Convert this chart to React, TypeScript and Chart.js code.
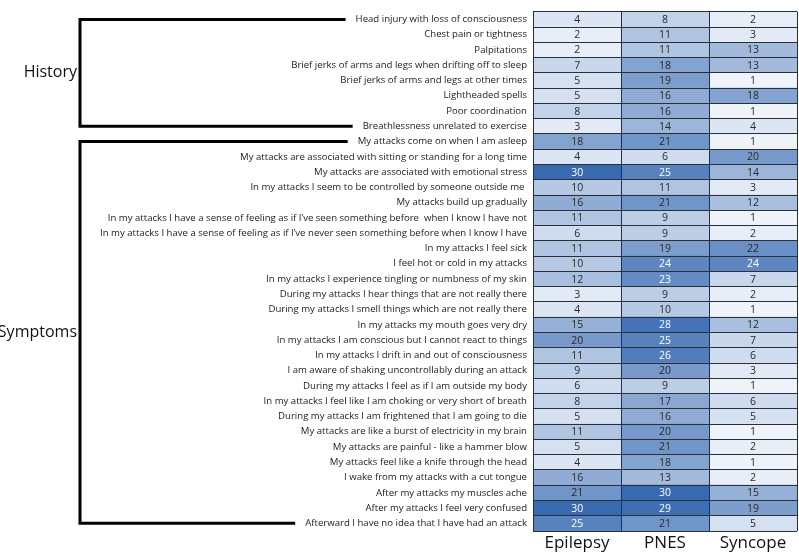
import React, { useEffect, useRef } from "react";
import { Chart, registerables } from "chart.js";

Chart.register(...registerables);

const rowLabels: string[] = [
  "Head injury with loss of consciousness",
  "Chest pain or tightness",
  "Palpitations",
  "Brief jerks of arms and legs when drifting off to sleep",
  "Brief jerks of arms and legs at other times",
  "Lightheaded spells",
  "Poor coordination",
  "Breathlessness unrelated to exercise",
  "My attacks come on when I am asleep",
  "My attacks are associated with sitting or standing for a long time",
  "My attacks are associated with emotional stress",
  "In my attacks I seem to be controlled by someone outside me ",
  "My attacks build up gradually",
  "In my attacks I have a sense of feeling as if I\u2019ve seen something before  when I know I have not",
  "In my attacks I have a sense of feeling as if I\u2019ve never seen something before when I know I have",
  "In my attacks I feel sick",
  "I feel hot or cold in my attacks",
  "In my attacks I experience tingling or numbness of my skin",
  "During my attacks I hear things that are not really there",
  "During my attacks I smell things which are not really there",
  "In my attacks my mouth goes very dry",
  "In my attacks I am conscious but I cannot react to things",
  "In my attacks I drift in and out of consciousness",
  "I am aware of shaking uncontrollably during an attack",
  "During my attacks I feel as if I am outside my body",
  "In my attacks I feel like I am choking or very short of breath",
  "During my attacks I am frightened that I am going to die",
  "My attacks are like a burst of electricity in my brain",
  "My attacks are painful - like a hammer blow",
  "My attacks feel like a knife through the head",
  "I wake from my attacks with a cut tongue",
  "After my attacks my muscles ache",
  "After my attacks I feel very confused",
  "Afterward I have no idea that I have had an attack",
];

const columnLabels: string[] = ["Epilepsy", "PNES", "Syncope"];

const epilepsy: number[] = [4, 2, 2, 7, 5, 5, 8, 3, 18, 4, 30, 10, 16, 11, 6, 11, 10, 12, 3, 4, 15, 20, 11, 9, 6, 8, 5, 11, 5, 4, 16, 21, 30, 25];
const pnes: number[] = [8, 11, 11, 18, 19, 16, 16, 14, 21, 6, 25, 11, 21, 9, 9, 19, 24, 23, 9, 10, 28, 25, 26, 20, 9, 17, 16, 20, 21, 18, 13, 30, 29, 21];
const syncope: number[] = [2, 3, 13, 13, 1, 18, 1, 4, 1, 20, 14, 3, 12, 1, 2, 22, 24, 7, 2, 1, 12, 7, 6, 3, 1, 6, 5, 1, 2, 1, 2, 15, 19, 5];

const groups = [
  { name: "History", first: 0, last: 7 },
  { name: "Symptoms", first: 8, last: 33 },
];

const VMIN = 1;
const VMAX = 30;
const LIGHT = [238, 243, 250];
const DARK = [56, 106, 178];

function cellColor(v: number): string {
  const t = Math.max(0, Math.min(1, (v - VMIN) / (VMAX - VMIN)));
  const c = LIGHT.map((l, i) => Math.round(l + (DARK[i] - l) * t));
  return `rgb(${c[0]},${c[1]},${c[2]})`;
}

const FONT = "'Open Sans', 'DejaVu Sans', sans-serif";
const TICK_PAD = 6;
const ROW_FONT = 9.6;

export default function App() {
  const ref = useRef<HTMLCanvasElement | null>(null);

  useEffect(() => {
    document.body.style.margin = "0";
    const canvas = ref.current;
    if (!canvas) return;
    const columns = [epilepsy, pnes, syncope];

    const cellText = {
      id: "cellText",
      afterDatasetsDraw(chart: any) {
        const ctx = chart.ctx;
        ctx.save();
        ctx.font = `10.5px ${FONT}`;
        ctx.textAlign = "center";
        ctx.textBaseline = "middle";
        chart.data.datasets.forEach((ds: any, di: number) => {
          const meta = chart.getDatasetMeta(di);
          meta.data.forEach((el: any, i: number) => {
            const v = columns[di][i];
            const p = el.getCenterPoint();
            ctx.fillStyle = v >= 23 ? "#ffffff" : "#2a2a2a";
            ctx.fillText(String(v), p.x, p.y + 0.5);
          });
        });
        ctx.restore();
      },
    };

    const brackets = {
      id: "brackets",
      afterDraw(chart: any) {
        const ctx = chart.ctx;
        const y = chart.scales.y;
        const left = chart.chartArea.left;
        const bx = 80;
        ctx.save();
        ctx.font = `${ROW_FONT}px ${FONT}`;
        const endFor = (i: number) => left - TICK_PAD - ctx.measureText(rowLabels[i]).width - 10;
        groups.forEach((g) => {
          const y0 = y.getPixelForValue(g.first);
          const y1 = y.getPixelForValue(g.last);
          const e0 = endFor(g.first);
          const e1 = endFor(g.last);
          ctx.strokeStyle = "#000";
          ctx.lineWidth = 3;
          ctx.lineJoin = "miter";
          ctx.beginPath();
          ctx.moveTo(e0, y0);
          ctx.lineTo(bx, y0);
          ctx.lineTo(bx, y1);
          ctx.lineTo(e1, y1);
          ctx.stroke();
          ctx.save();
          ctx.font = `16px ${FONT}`;
          ctx.fillStyle = "#111";
          ctx.textAlign = "right";
          ctx.textBaseline = "middle";
          ctx.fillText(g.name, bx - 3, (y0 + y1) / 2);
          ctx.restore();
        });
        ctx.restore();
      },
    };

    const chart = new Chart(canvas, {
      type: "bar",
      data: {
        labels: rowLabels,
        datasets: columns.map((vals, di) => ({
          label: columnLabels[di],
          data: vals.map(() => 1),
          backgroundColor: vals.map(cellColor),
          borderWidth: 0,
          categoryPercentage: 1,
          barPercentage: 1,
          xAxisID: "x",
        })),
      },
      options: {
        indexAxis: "y",
        animation: false,
        responsive: false,
        maintainAspectRatio: false,
        layout: { padding: { top: 1, right: 2, left: 0, bottom: 0 } },
        plugins: { legend: { display: false }, tooltip: { enabled: false } },
        scales: {
          x: {
            type: "linear",
            stacked: true,
            min: 0,
            max: 3,
            position: "bottom",
            ticks: { display: false, stepSize: 1 },
            grid: { display: true, drawTicks: false, color: "#2b3038", lineWidth: 1, z: 1 },
            border: { display: false },
            afterFit(scale: any) {
              scale.height = 0;
            },
          },
          cols: {
            type: "category",
            labels: columnLabels,
            position: "bottom",
            offset: true,
            grid: { display: false, drawTicks: false },
            border: { display: false },
            ticks: { color: "#111", font: { size: 17, family: FONT }, padding: 2 },
            afterFit(scale: any) {
              scale.height = 22;
            },
          },
          y: {
            type: "category",
            stacked: true,
            offset: true,
            grid: { display: true, offset: true, drawTicks: false, color: "#2b3038", lineWidth: 1, z: 1 },
            border: { display: true, color: "#2b3038", width: 1, z: 1 },
            ticks: {
              autoSkip: false,
              color: "#222",
              font: { size: ROW_FONT, family: FONT },
              padding: TICK_PAD,
            },
            afterFit(scale: any) {
              scale.width = 533;
            },
          },
        },
      } as any,
      plugins: [cellText, brackets],
    });

    return () => chart.destroy();
  }, []);

  return (
    <div style={{ position: "absolute", left: 0, top: 0, width: 799, height: 553 }}>
      <canvas ref={ref} width={799} height={553} />
    </div>
  );
}
